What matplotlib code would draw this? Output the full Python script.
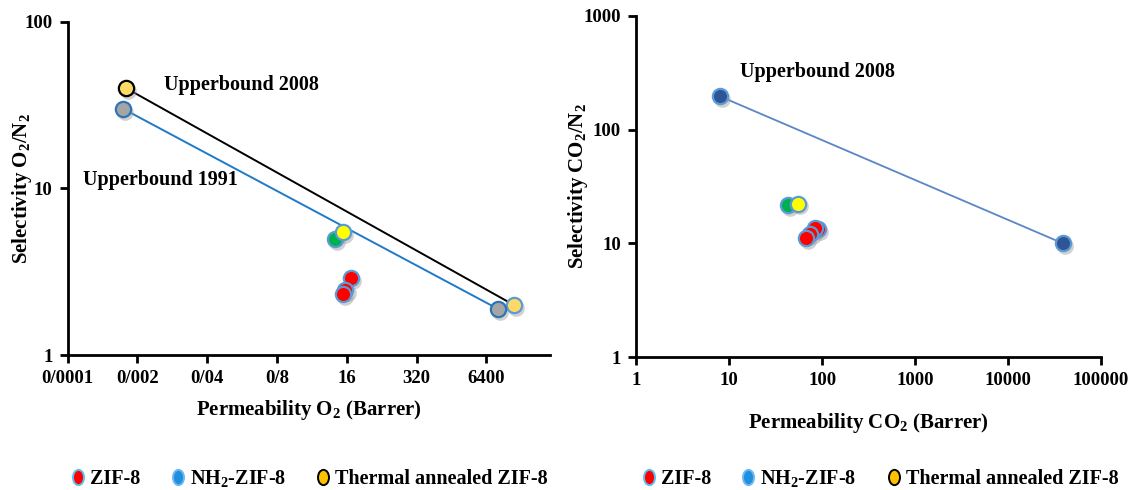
import matplotlib
matplotlib.use("Agg")
import matplotlib.pyplot as plt
import matplotlib.transforms as mtransforms
from matplotlib.lines import Line2D
from matplotlib.path import Path
import numpy as np

plt.rcParams['font.family'] = ['Liberation Serif', 'DejaVu Serif']
plt.rcParams['font.weight'] = 'bold'
plt.rcParams['mathtext.fontset'] = 'custom'
plt.rcParams['mathtext.rm'] = 'Liberation Serif:bold'
plt.rcParams['mathtext.bf'] = 'Liberation Serif:bold'
plt.rcParams['mathtext.it'] = 'Liberation Serif:bold'

# ---- left chart: O2/N2 ----
ub2008_o2_x = [0.00122, 20580]
ub2008_o2_y = [40, 2.0]
ub1991_o2_x = [0.00109, 10520]
ub1991_o2_y = [30, 1.89]
zif8_o2_x = [19, 15.1, 13.8]
zif8_o2_y = [2.9, 2.46, 2.33]
nh2_o2_x = [9.7]
nh2_o2_y = [4.97]
therm_o2_x = [13.8]
therm_o2_y = [5.47]
o2_xticks = [0.0001, 0.002, 0.04, 0.8, 16, 320, 6400]
o2_xticklabels = ['0/0001', '0/002', '0/04', '0/8', '16', '320', '6400']

# ---- right chart: CO2/N2 ----
ub2008_co2_x = [7.9, 38900]
ub2008_co2_y = [197, 10]
zif8_co2_x = [90, 84, 75, 66.7]
zif8_co2_y = [13.4, 13.7, 12.2, 11.1]
nh2_co2_x = [43]
nh2_co2_y = [21.7]
therm_co2_x = [54.7]
therm_co2_y = [22.4]
co2_xticks = [1, 10, 100, 1000, 10000, 100000]
co2_xticklabels = ['1', '10', '100', '1000', '10000', '100000']

legend_labels = ['ZIF-8', 'NH$_2$-ZIF-8', 'Thermal annealed ZIF-8']

fig = plt.figure(figsize=(11.28, 4.9), dpi=100)
ax1 = fig.add_axes([0.060, 0.2755, 0.428, 0.680])
ax2 = fig.add_axes([0.564, 0.2714, 0.412, 0.696])


def dot(ax, x, y, face, edge, size=11, z=3):
    # soft drop shadow, then the marker
    sh = mtransforms.offset_copy(ax.transData, fig=fig, x=1.5, y=-2, units='points')
    ax.plot(x, y, 'o', ms=size + 1, color='#9a9a9a', alpha=0.45, mec='none',
            transform=sh, zorder=z - 0.5, clip_on=False)
    ax.plot(x, y, 'o', ms=size, mfc=face, mec=edge, mew=1.6, zorder=z, clip_on=False)


def style(ax):
    ax.set_xscale('log')
    ax.set_yscale('log')
    for s in ['top', 'right']:
        ax.spines[s].set_visible(False)
    for s in ['left', 'bottom']:
        ax.spines[s].set_linewidth(2)
    ax.tick_params(which='major', direction='out', length=6, width=2, labelsize=13.5, pad=5)
    ax.tick_params(which='minor', length=0)


# left
style(ax1)
ax1.plot(ub2008_o2_x, ub2008_o2_y, color='black', lw=1.4, zorder=2)
ax1.plot(ub1991_o2_x, ub1991_o2_y, color='#2079C7', lw=1.4, zorder=2)
dot(ax1, ub2008_o2_x[:1], ub2008_o2_y[:1], '#FFD966', 'black')
dot(ax1, ub2008_o2_x[1:], ub2008_o2_y[1:], '#FFD966', '#5B9BD5')
dot(ax1, ub1991_o2_x, ub1991_o2_y, '#A5A5A5', '#2E75B6')
dot(ax1, nh2_o2_x, nh2_o2_y, '#00B050', '#5B9BD5')
dot(ax1, therm_o2_x, therm_o2_y, '#FFFF00', '#5B9BD5')
dot(ax1, zif8_o2_x, zif8_o2_y, '#FF0000', '#5B9BD5')
ax1.set_xlim(0.0001, 100000)
ax1.set_ylim(1, 100)
ax1.set_xticks(o2_xticks)
ax1.set_xticklabels(o2_xticklabels)
ax1.set_yticks([1, 10, 100])
ax1.set_yticklabels(['1', '10', '100'])
ax1.minorticks_off()
ax1.set_xlabel('Permeability O$_2$ (Barrer)', fontsize=15, fontweight='bold', va='center')
ax1.set_ylabel('Selectivity O$_2$/N$_2$', fontsize=15, fontweight='bold', va='center')
ax1.xaxis.set_label_coords(0.5, -0.165)
ax1.yaxis.set_label_coords(-0.095, 0.5)
ax1.text(0.0063, 42, 'Upperbound 2008', fontsize=14.5, fontweight='bold', ha='left', va='center')
ax1.text(0.00019, 11.3, 'Upperbound 1991', fontsize=14.5, fontweight='bold', ha='left', va='center')

# right
style(ax2)
ax2.plot(ub2008_co2_x, ub2008_co2_y, color='#5A86C5', lw=1.3, zorder=2)
dot(ax2, ub2008_co2_x, ub2008_co2_y, '#2F5597', '#5B9BD5')
dot(ax2, nh2_co2_x, nh2_co2_y, '#00B050', '#5B9BD5')
dot(ax2, therm_co2_x, therm_co2_y, '#FFFF00', '#5B9BD5')
dot(ax2, zif8_co2_x, zif8_co2_y, '#FF0000', '#5B9BD5')
ax2.set_xlim(1, 100000)
ax2.set_ylim(1, 1000)
ax2.set_xticks(co2_xticks)
ax2.set_xticklabels(co2_xticklabels)
ax2.set_yticks([1, 10, 100, 1000])
ax2.set_yticklabels(['1', '10', '100', '1000'])
ax2.minorticks_off()
ax2.set_xlabel('Permeability CO$_2$ (Barrer)', fontsize=15, fontweight='bold', va='center')
ax2.set_ylabel('Selectivity CO$_2$/N$_2$', fontsize=15, fontweight='bold', va='center')
ax2.xaxis.set_label_coords(0.5, -0.194)
ax2.yaxis.set_label_coords(-0.125, 0.5)
ax2.text(13, 321, 'Upperbound 2008', fontsize=14.5, fontweight='bold', ha='left', va='center')

# legends with small upright ellipse markers
circ = Path.unit_circle()
ell = Path(circ.vertices * np.array([0.72, 1.0]), circ.codes)
handles = [
    Line2D([], [], ls='none', marker=ell, ms=11, mfc='#FF0000', mec='#5BC0F0', mew=1.4),
    Line2D([], [], ls='none', marker=ell, ms=11, mfc='#1F8FE0', mec='#6FB7EE', mew=1.4),
    Line2D([], [], ls='none', marker=ell, ms=11, mfc='#FFC000', mec='black', mew=1.4),
]
for ax, anchor in [(ax1, (0.009, -0.37)), (ax2, (0.014, -0.355))]:
    ax.legend(handles, legend_labels, loc='center left', bbox_to_anchor=anchor, ncol=3,
              frameon=False, handlelength=0.6, handletextpad=0.3,
              columnspacing=1.55, borderpad=0, borderaxespad=0,
              prop={'weight': 'bold', 'size': 14.5})

fig.savefig('out.png', dpi=100)
